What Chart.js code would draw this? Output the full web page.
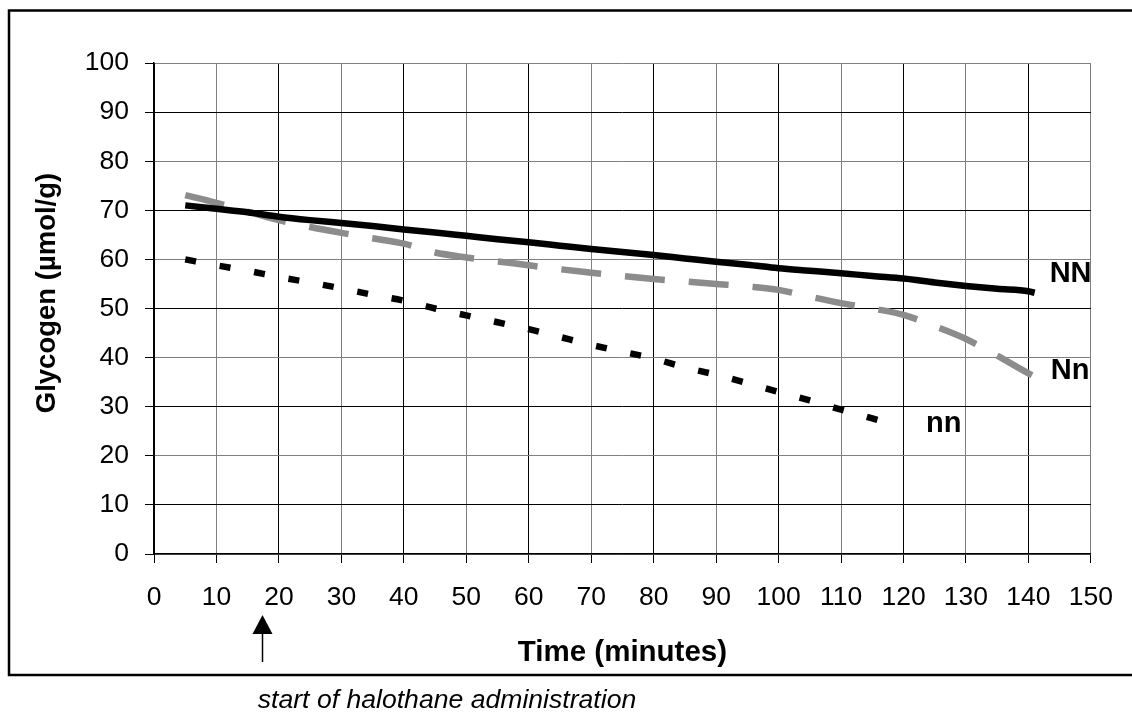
<!DOCTYPE html>
<html>
<head>
<meta charset="utf-8">
<script src="https://cdn.jsdelivr.net/npm/chart.js@4.4.1/dist/chart.umd.min.js"></script>
<style>
  html, body { margin: 0; padding: 0; background: #fff; }
  #wrap { width: 1132px; height: 714px; position: relative; }
</style>
</head>
<body>
<div id="wrap"><canvas id="c" width="1132" height="714"></canvas></div>
<script>
// ---- data ----
const timeNN = [5, 10, 15, 20, 25, 30, 35, 40, 45, 50, 55, 60, 65, 70, 75, 80, 85, 90, 95, 100, 105, 110, 115, 120, 125, 130, 135, 140, 141];
const glycNN = [71.0, 70.3, 69.6, 68.7, 68.0, 67.4, 66.8, 66.1, 65.5, 64.8, 64.1, 63.5, 62.8, 62.1, 61.5, 60.9, 60.2, 59.5, 58.9, 58.2, 57.7, 57.2, 56.6, 56.1, 55.3, 54.6, 54.0, 53.5, 53.2];

const timeNn = [5, 10, 15, 20, 25, 30, 35, 40, 45, 50, 55, 60, 65, 70, 75, 80, 85, 90, 95, 100, 105, 110, 115, 120, 125, 130, 135, 140, 141.5];
const glycNn = [73.1, 71.5, 69.7, 68.0, 66.6, 65.4, 64.3, 63.2, 61.4, 60.4, 59.6, 58.8, 58.0, 57.3, 56.6, 56.0, 55.5, 55.0, 54.5, 53.8, 52.4, 51.1, 50.0, 48.7, 46.4, 43.8, 40.4, 36.8, 35.8];

const timenn = [5, 10, 15, 20, 25, 30, 35, 40, 45, 50, 55, 60, 65, 70, 75, 80, 85, 90, 95, 100, 105, 110, 115, 118];
const glycnn = [60.0, 58.8, 57.7, 56.4, 55.3, 54.1, 52.8, 51.6, 50.0, 48.6, 47.2, 45.8, 44.2, 42.6, 41.2, 39.8, 38.0, 36.5, 34.8, 33.0, 31.3, 29.4, 27.6, 26.5];

const seriesNames = ['NN', 'Nn', 'nn'];
const xTicks = [0, 10, 20, 30, 40, 50, 60, 70, 80, 90, 100, 110, 120, 130, 140, 150];
const yTicks = [0, 10, 20, 30, 40, 50, 60, 70, 80, 90, 100];
const xTitle = 'Time (minutes)';
const yTitle = 'Glycogen (µmol/g)';
const noteText = 'start of halothane administration';
const halothaneStart = 17.3; // minutes (arrow)

const pts = (xs, ys) => xs.map((x, i) => ({ x: x, y: ys[i] }));

const FONT = "'Liberation Sans', Arial, sans-serif";
Chart.defaults.font.family = FONT;
Chart.defaults.color = '#000';

const decorPlugin = {
  id: 'decor',
  beforeDraw(chart) {
    const ctx = chart.ctx;
    ctx.save();
    ctx.fillStyle = '#fff';
    ctx.fillRect(0, 0, chart.width, chart.height);
    ctx.strokeStyle = '#000';
    ctx.lineWidth = 2.5;
    ctx.strokeRect(9, 10.5, 1200, 664.5);
    ctx.restore();
  },
  afterDraw(chart) {
    const ctx = chart.ctx;
    const xs = chart.scales.x;
    const ca = chart.chartArea;
    ctx.save();
    // y axis title
    ctx.save();
    ctx.translate(47, 293);
    ctx.rotate(-Math.PI / 2);
    ctx.font = "bold 27.5px " + FONT;
    ctx.fillStyle = '#000';
    ctx.textAlign = 'center';
    ctx.textBaseline = 'middle';
    ctx.fillText(yTitle, 0, 0);
    ctx.restore();
    // series labels anchored to each series' last point
    const offsets = [[15, -19], [13, -7], [35, 0]];
    ctx.font = "bold 29px " + FONT;
    ctx.fillStyle = '#000';
    ctx.textAlign = 'left';
    ctx.textBaseline = 'middle';
    chart.data.datasets.forEach((ds, i) => {
      const meta = chart.getDatasetMeta(i);
      const last = meta.data[meta.data.length - 1];
      ctx.fillText(seriesNames[i], last.x + offsets[i][0], last.y + offsets[i][1]);
    });
    // arrow
    const ax = Math.round(xs.getPixelForValue(halothaneStart)) + 0.5;
    ctx.strokeStyle = '#000';
    ctx.lineWidth = 1.5;
    ctx.beginPath();
    ctx.moveTo(ax, ca.bottom + 78);
    ctx.lineTo(ax, ca.bottom + 108);
    ctx.stroke();
    ctx.beginPath();
    ctx.moveTo(ax, ca.bottom + 61);
    ctx.lineTo(ax - 10, ca.bottom + 80);
    ctx.lineTo(ax + 10, ca.bottom + 80);
    ctx.closePath();
    ctx.fill();
    // note under frame
    ctx.font = "italic 26.6px " + FONT;
    ctx.textAlign = 'center';
    ctx.textBaseline = 'alphabetic';
    ctx.fillText(noteText, 447, 708);
    ctx.restore();
  }
};

new Chart(document.getElementById('c'), {
  type: 'line',
  data: {
    datasets: [
      {
        label: seriesNames[0],
        data: pts(timeNN, glycNN),
        borderColor: '#000',
        borderWidth: 6.5,
        pointRadius: 0,
        cubicInterpolationMode: 'monotone',
        fill: false
      },
      {
        label: seriesNames[1],
        data: pts(timeNn, glycNn),
        borderColor: '#8c8c8c',
        borderWidth: 6.5,
        borderDash: [40, 24],
        borderCapStyle: 'butt',
        pointRadius: 0,
        cubicInterpolationMode: 'monotone',
        fill: false
      },
      {
        label: seriesNames[2],
        data: pts(timenn, glycnn),
        borderColor: '#000',
        borderWidth: 6.5,
        borderDash: [11, 24],
        borderCapStyle: 'butt',
        pointRadius: 0,
        cubicInterpolationMode: 'monotone',
        fill: false
      }
    ]
  },
  options: {
    responsive: false,
    animation: false,
    layout: { padding: { top: 63, right: 34, left: 0, bottom: 0 } },
    plugins: { legend: { display: false }, tooltip: { enabled: false } },
    scales: {
      x: {
        type: 'linear',
        min: 0, max: 150,
        afterFit(scale) { scale.height = 160; },
        afterBuildTicks(scale) { scale.ticks = xTicks.map(v => ({ value: v })); },
        ticks: { font: { size: 26.5 }, padding: 19, color: '#000', maxRotation: 0, autoSkip: false },
        grid: {
          color: (c) => (c.index % 2 === 1 ? '#808080' : '#000'),
          tickColor: '#000',
          tickLength: 9,
          lineWidth: 1
        },
        border: { color: '#000', width: 1.5 },
        title: {
          display: true, text: xTitle, color: '#000',
          font: { size: 29.5, weight: 'bold' },
          padding: { top: 0, bottom: 43 }
        }
      },
      y: {
        type: 'linear',
        min: 0, max: 100,
        afterFit(scale) { scale.width = 154; },
        afterBuildTicks(scale) { scale.ticks = yTicks.map(v => ({ value: v })); },
        ticks: { font: { size: 26.5 }, padding: 16, color: '#000' },
        grid: {
          color: (c) => (c.index % 2 === 0 ? '#808080' : '#000'),
          tickColor: '#000',
          tickLength: 9,
          lineWidth: 1
        },
        border: { color: '#000', width: 1.5 }
      }
    }
  },
  plugins: [decorPlugin]
});
</script>
</body>
</html>
